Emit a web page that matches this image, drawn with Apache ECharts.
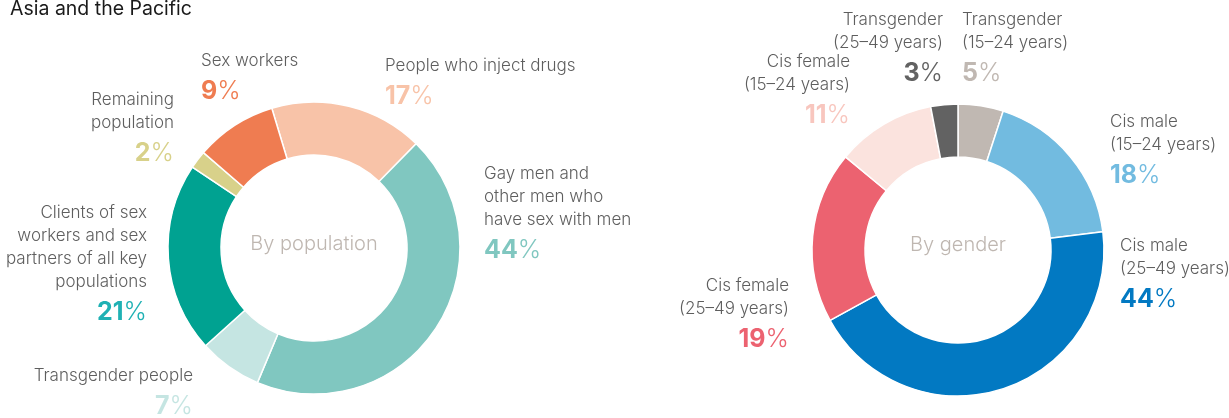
<!DOCTYPE html>
<html>
<head>
<meta charset="utf-8">
<script src="https://cdn.jsdelivr.net/npm/echarts@6/dist/echarts.min.js"></script>
<style>
html,body{margin:0;padding:0;background:#fff;}
#chart{width:1229px;height:418px;}
</style>
</head>
<body>
<div id="chart"></div>
<script>
// ---- Data ----
const titleText = 'Asia and the Pacific';
const popCenterLabel = 'By population';
const popCategories = [
  'People who inject drugs',
  'Gay men and\nother men who\nhave sex with men',
  'Transgender people',
  'Clients of sex\nworkers and sex\npartners of all key\npopulations',
  'Remaining\npopulation',
  'Sex workers'
];
const popValues = [17, 44, 7, 21, 2, 9];

const genderCenterLabel = 'By gender';
const genderCategories = [
  'Transgender\n(15–24 years)',
  'Cis male\n(15–24 years)',
  'Cis male\n(25–49 years)',
  'Cis female\n(25–49 years)',
  'Cis female\n(15–24 years)',
  'Transgender\n(25–49 years)'
];
const genderValues = [5, 18, 44, 19, 11, 3];

// ---- Styles ----
const popColors = ['#F8C3A8', '#80C7C0', '#C5E5E2', '#00A291', '#D8D18A', '#EF7C51'];
const popTextColors = ['#F8C3A8', '#80C7C0', '#C5E5E2', '#1FB1B4', '#D8D18A', '#EF7C51'];
const genderColors = ['#C0B8B2', '#72BBE0', '#0279C2', '#EC6270', '#FBE3DE', '#626262'];
const genderTextColors = ['#C0B8B2', '#72BBE0', '#0279C2', '#EC6270', '#F8C6BE', '#626262'];

// label block anchor: [x, top y, align]
const popLabelPos = [
  [385, 54, 'left'],
  [484, 162, 'left'],
  [193, 364, 'right'],
  [147, 201, 'right'],
  [174, 88, 'right'],
  [201, 49, 'left']
];
const genderLabelPos = [
  [962, 8, 'left'],
  [1110, 110, 'left'],
  [1120, 234, 'left'],
  [789, 274, 'right'],
  [850, 50, 'right'],
  [943, 8, 'right']
];

const FONT = 'Inter, Lato, sans-serif';

function buildData(cats, vals, colors, textColors, pos) {
  return cats.map((c, i) => ({
    name: c,
    value: vals[i],
    itemStyle: { color: colors[i] },
    label: {
      align: pos[i][2],
      rich: {
        t: { fontFamily: FONT, fontSize: 17, fontWeight: 300, lineHeight: 23, color: '#5E5E5E', align: pos[i][2] },
        p: { fontFamily: FONT, fontSize: 25, fontWeight: 'bold', lineHeight: 38, color: textColors[i] },
        q: { fontFamily: FONT, fontSize: 25, fontWeight: 300, lineHeight: 38, color: textColors[i] }
      }
    }
  }));
}

function labelFormatter(p) {
  return p.name.split('\n').map(l => '{t|' + l + '}').join('\n') + '\n{p|' + p.value + '}{q|%}';
}

function makePie(cats, vals, colors, textColors, pos, center, startAngle) {
  return {
    type: 'pie',
    center: center,
    radius: [93, 146],
    startAngle: startAngle,
    clockwise: true,
    silent: true,
    avoidLabelOverlap: false,
    itemStyle: { borderColor: '#fff', borderWidth: 1.5 },
    label: {
      show: true,
      position: 'outside',
      formatter: labelFormatter
    },
    labelLine: { show: false },
    labelLayout: function (params) {
      const ps = pos[params.dataIndex];
      return { x: ps[0], y: ps[1], align: ps[2], verticalAlign: 'top', hideOverlap: false, moveOverlap: null };
    },
    data: buildData(cats, vals, colors, textColors, pos)
  };
}

const chart = echarts.init(document.getElementById('chart'), null, { renderer: 'canvas' });
chart.setOption({
  animation: false,
  backgroundColor: '#ffffff',
  title: [
    { text: titleText, left: 10, top: -1, padding: 0,
      textStyle: { fontFamily: FONT, fontSize: 19.5, fontWeight: 'normal', color: '#1a1a1a' } },
    { text: popCenterLabel, left: 314, top: 234, textAlign: 'center', padding: 0,
      textStyle: { fontFamily: FONT, fontSize: 20, fontWeight: 300, color: '#BFB7B1' } },
    { text: genderCenterLabel, left: 958, top: 235, textAlign: 'center', padding: 0,
      textStyle: { fontFamily: FONT, fontSize: 20, fontWeight: 300, color: '#BFB7B1' } }
  ],
  series: [
    makePie(popCategories, popValues, popColors, popTextColors, popLabelPos, [314, 248], 106.8),
    makePie(genderCategories, genderValues, genderColors, genderTextColors, genderLabelPos, [958, 250], 90)
  ]
});
</script>
</body>
</html>
